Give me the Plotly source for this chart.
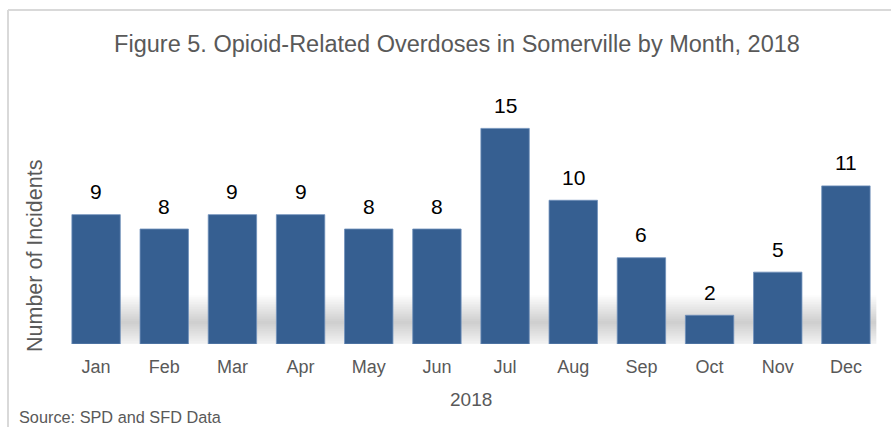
import plotly.graph_objects as go

# Monthly opioid-related overdose counts, Somerville 2018
months = ["Jan", "Feb", "Mar", "Apr", "May", "Jun",
          "Jul", "Aug", "Sep", "Oct", "Nov", "Dec"]
incidents = [9, 8, 9, 9, 8, 8, 15, 10, 6, 2, 5, 11]

title_text = "Figure 5. Opioid-Related Overdoses in Somerville by Month, 2018"
y_title = "Number of Incidents"
x_title = "2018"
source_text = "Source: SPD and SFD Data"

FONT = "Liberation Sans, Arial, sans-serif"
GRAY = "#595959"
BAR = "#365F91"

W, H = 891, 427
L, R, T, B = 62, 11, 114, 83
PW, PH = W - L - R, H - T - B


def px_x(x):
    return (x - L) / PW


def px_y(y):
    return (H - B - y) / PH


fig = go.Figure()
fig.add_trace(go.Bar(
    x=months, y=incidents,
    marker=dict(color=BAR, line=dict(color="#6f8fba", width=0.8)),
    hoverinfo="x+y",
))

# soft shadow band along the base of the bars
shapes = []
n_layers = 16
for i in range(n_layers):
    half = 1.9 * (i + 1) / n_layers
    shapes.append(dict(
        type="rect", xref="x", yref="y", layer="below",
        x0=0.3, x1=11.45, y0=max(0, 1.5 - half), y1=1.5 + half,
        fillcolor="black", opacity=0.012, line=dict(width=0),
    ))

# chart frame (top and left edges)
border = dict(color="#d9d9d9", width=2)
shapes.append(dict(type="line", xref="paper", yref="paper",
                   x0=px_x(8), x1=px_x(W + 5), y0=px_y(10), y1=px_y(10), line=border))
shapes.append(dict(type="line", xref="paper", yref="paper",
                   x0=px_x(8), x1=px_x(8), y0=px_y(10), y1=px_y(H + 5), line=border))

annotations = []
for m, v in zip(months, incidents):
    annotations.append(dict(
        x=m, y=v, xref="x", yref="y", text=str(v), showarrow=False,
        yanchor="middle", yshift=23, font=dict(family=FONT, size=21, color="black"),
    ))

annotations += [
    dict(text=y_title, x=px_x(35), y=px_y(256), xref="paper", yref="paper",
         textangle=-90, showarrow=False, xanchor="center", yanchor="middle",
         font=dict(family=FONT, size=21.5, color=GRAY)),
    dict(text=x_title, x=px_x(471), y=px_y(399), xref="paper", yref="paper",
         showarrow=False, xanchor="center", yanchor="middle",
         font=dict(family=FONT, size=19, color=GRAY)),
    dict(text=source_text, x=px_x(17), y=px_y(417), xref="paper", yref="paper",
         showarrow=False, xanchor="left", yanchor="middle",
         font=dict(family=FONT, size=16.3, color=GRAY)),
]

fig.update_layout(
    width=W, height=H,
    margin=dict(l=L, r=R, t=T, b=B),
    paper_bgcolor="white", plot_bgcolor="white",
    bargap=0.29,
    showlegend=False,
    title=dict(text=title_text, x=457 / W, xanchor="center",
               y=1 - 44 / H, yanchor="middle",
               font=dict(family=FONT, size=23.5, color=GRAY)),
    xaxis=dict(showgrid=False, showline=False, zeroline=False, ticks="",
               tickfont=dict(family=FONT, size=18, color=GRAY),
               ticklabelstandoff=10, range=[-0.5, 11.5]),
    yaxis=dict(range=[0, 16], showgrid=False, showline=False, zeroline=False,
               showticklabels=False, ticks=""),
    shapes=shapes,
    annotations=annotations,
)

fig.write_html("out.html", config={"displayModeBar": False})
